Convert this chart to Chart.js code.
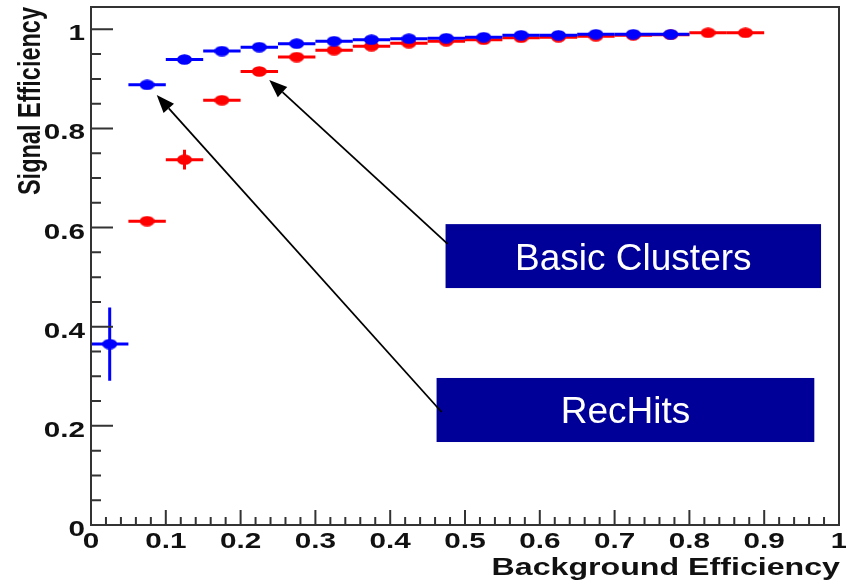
<!DOCTYPE html>
<html>
<head>
<meta charset="utf-8">
<script src="https://cdn.jsdelivr.net/npm/chart.js@4.4.1/dist/chart.umd.min.js"></script>
<style>
  html, body { margin: 0; padding: 0; background: #fff; }
  #wrap { width: 846px; height: 580px; }
</style>
</head>
<body>
<div id="wrap"><canvas id="roc" width="846" height="580"></canvas></div>
<script>
// bin centres of background efficiency (bins are 0.05 wide)
const binCenters = [0.025, 0.075, 0.125, 0.175, 0.225, 0.275, 0.325, 0.375, 0.425,
                    0.475, 0.525, 0.575, 0.625, 0.675, 0.725, 0.775, 0.825, 0.875];
const binHalfWidth = 0.025;

// RecHits (blue)
const recHitsEff = [0.365, 0.888, 0.939, 0.956, 0.964, 0.971, 0.976, 0.979, 0.981,
                    0.982, 0.984, 0.988, 0.988, 0.990, 0.990, 0.990, null, null];
const recHitsErr = [0.074, 0.006, 0.004, 0.004, 0.003, 0.003, 0.003, 0.003, 0.003,
                    0.003, 0.003, 0.003, 0.003, 0.003, 0.003, 0.003, null, null];

// Basic Clusters (red)
const clustersEff = [null, 0.613, 0.737, 0.857, 0.915, 0.944, 0.958, 0.966, 0.972,
                     0.976, 0.979, 0.983, 0.984, 0.986, 0.988, 0.989, 0.993, 0.993];
const clustersErr = [null, 0.005, 0.020, 0.006, 0.005, 0.004, 0.004, 0.003, 0.003,
                     0.003, 0.003, 0.003, 0.003, 0.003, 0.003, 0.003, 0.003, 0.003];

const xTickLabels = ['0', '0.1', '0.2', '0.3', '0.4', '0.5', '0.6', '0.7', '0.8', '0.9', '1'];
const yTickLabels = ['0', '0.2', '0.4', '0.6', '0.8', '1'];

// text boxes with arrows, in data coordinates
const notes = [
  { text: 'Basic Clusters', box: [0.474, 0.607, 0.976, 0.478], tail: [0.4767, 0.567], tip: [0.2383, 0.8977] },
  { text: 'RecHits',        box: [0.462, 0.2966, 0.967, 0.1674], tail: [0.4687, 0.228], tip: [0.0879, 0.8675] }
];

function toPoints(eff, err) {
  return binCenters.map((c, i) => ({ x: c, y: eff[i], err: err[i] })).filter(p => p.y !== null);
}

// the original markers are a little wider than tall
function ellipseMarker(color) {
  const c = document.createElement('canvas');
  c.width = 15; c.height = 11;
  const g = c.getContext('2d');
  g.fillStyle = color;
  g.beginPath();
  g.ellipse(7.5, 5.5, 7.5, 5.2, 0, 0, Math.PI * 2);
  g.fill();
  return c;
}

const boldFont = (px) => 'bold ' + px + 'px "Liberation Sans", Arial, sans-serif';

function stretchedText(ctx, text, x, y, sx, align) {
  ctx.save();
  ctx.translate(x, y);
  ctx.scale(sx, 1);
  ctx.textAlign = align;
  ctx.textBaseline = 'alphabetic';
  ctx.fillText(text, 0, 0);
  ctx.restore();
}

const rootStyle = {
  id: 'rootStyle',
  beforeDatasetDraw(chart, args) {
    const ds = chart.data.datasets[args.index];
    const xs = chart.scales.x, ys = chart.scales.y, ctx = chart.ctx;
    ctx.save();
    ctx.strokeStyle = ds.backgroundColor;
    ctx.lineWidth = 3;
    ds.data.forEach(p => {
      const px = xs.getPixelForValue(p.x), py = ys.getPixelForValue(p.y);
      ctx.beginPath();
      ctx.moveTo(xs.getPixelForValue(p.x - binHalfWidth), py);
      ctx.lineTo(xs.getPixelForValue(p.x + binHalfWidth), py);
      ctx.moveTo(px, ys.getPixelForValue(p.y - p.err));
      ctx.lineTo(px, ys.getPixelForValue(p.y + p.err));
      ctx.stroke();
    });
    ctx.restore();
  },
  afterDraw(chart) {
    const ctx = chart.ctx, a = chart.chartArea;
    const xs = chart.scales.x, ys = chart.scales.y;
    ctx.save();

    // frame
    ctx.strokeStyle = '#333';
    ctx.lineWidth = 2;
    ctx.strokeRect(a.left, a.top, a.right - a.left, a.bottom - a.top);

    // inward ticks
    ctx.beginPath();
    for (let i = 0; i <= 50; i++) {
      const px = xs.getPixelForValue(i * 0.02);
      const len = i % 5 === 0 ? 15 : 8;
      ctx.moveTo(px, a.bottom);
      ctx.lineTo(px, a.bottom - len);
    }
    for (let i = 0; i * 0.05 <= ys.max; i++) {
      const py = ys.getPixelForValue(i * 0.05);
      const len = i % 4 === 0 ? 22 : 10;
      ctx.moveTo(a.left, py);
      ctx.lineTo(a.left + len, py);
    }
    ctx.stroke();

    // tick labels
    ctx.fillStyle = '#111';
    ctx.font = boldFont(22);
    xTickLabels.forEach(t => {
      stretchedText(ctx, t, xs.getPixelForValue(parseFloat(t)), 548, 1.35, 'center');
    });
    yTickLabels.forEach(t => {
      stretchedText(ctx, t, 85, ys.getPixelForValue(parseFloat(t)) + 11, 1.35, 'right');
    });

    // axis titles
    ctx.font = boldFont(24);
    stretchedText(ctx, 'Background Efficiency', 840, 575, 1.34, 'right');
    ctx.save();
    ctx.translate(40, 7);
    ctx.rotate(-Math.PI / 2);
    ctx.scale(1, 1.36);
    ctx.font = boldFont(23.5);
    ctx.textAlign = 'right';
    ctx.textBaseline = 'alphabetic';
    ctx.fillText('Signal Efficiency', 0, 0);
    ctx.restore();

    // annotation boxes and arrows
    notes.forEach(n => {
      const x1 = xs.getPixelForValue(n.box[0]), y1 = ys.getPixelForValue(n.box[1]);
      const x2 = xs.getPixelForValue(n.box[2]), y2 = ys.getPixelForValue(n.box[3]);
      ctx.fillStyle = '#000099';
      ctx.fillRect(x1, y1, x2 - x1, y2 - y1);
      ctx.fillStyle = '#fff';
      ctx.font = '37px "Liberation Sans", Arial, sans-serif';
      ctx.textAlign = 'center';
      ctx.textBaseline = 'alphabetic';
      ctx.fillText(n.text, (x1 + x2) / 2, (y1 + y2) / 2 + 13.5);

      const tx = xs.getPixelForValue(n.tail[0]), ty = ys.getPixelForValue(n.tail[1]);
      const hx = xs.getPixelForValue(n.tip[0]), hy = ys.getPixelForValue(n.tip[1]);
      const ang = Math.atan2(hy - ty, hx - tx);
      const headLen = 18, headW = 7;
      const bx = hx - headLen * Math.cos(ang), by = hy - headLen * Math.sin(ang);
      ctx.strokeStyle = '#000';
      ctx.lineWidth = 1.8;
      ctx.beginPath();
      ctx.moveTo(tx, ty);
      ctx.lineTo(bx, by);
      ctx.stroke();
      ctx.fillStyle = '#000';
      ctx.beginPath();
      ctx.moveTo(hx, hy);
      ctx.lineTo(bx + headW * Math.sin(ang), by - headW * Math.cos(ang));
      ctx.lineTo(bx - headW * Math.sin(ang), by + headW * Math.cos(ang));
      ctx.closePath();
      ctx.fill();
    });

    ctx.restore();
  }
};

new Chart(document.getElementById('roc'), {
  type: 'scatter',
  data: {
    datasets: [
      {
        label: 'RecHits',
        data: toPoints(recHitsEff, recHitsErr),
        backgroundColor: '#0000ff',
        pointStyle: ellipseMarker('#0000ff'),
        pointRadius: 6
      },
      {
        label: 'Basic Clusters',
        data: toPoints(clustersEff, clustersErr),
        backgroundColor: '#ff0000',
        pointStyle: ellipseMarker('#ff0000'),
        pointRadius: 6
      }
    ]
  },
  options: {
    responsive: false,
    animation: false,
    layout: { padding: { left: 0, right: 4, top: 7, bottom: 0 } },
    plugins: { legend: { display: false }, tooltip: { enabled: false } },
    scales: {
      x: {
        type: 'linear', min: 0, max: 1,
        grid: { display: false }, border: { display: false },
        ticks: { display: false },
        afterFit: (s) => { s.height = 55; }
      },
      y: {
        type: 'linear', min: 0, max: 1.045,
        grid: { display: false }, border: { display: false },
        ticks: { display: false },
        afterFit: (s) => { s.width = 91; }
      }
    }
  },
  plugins: [rootStyle]
});
</script>
</body>
</html>
